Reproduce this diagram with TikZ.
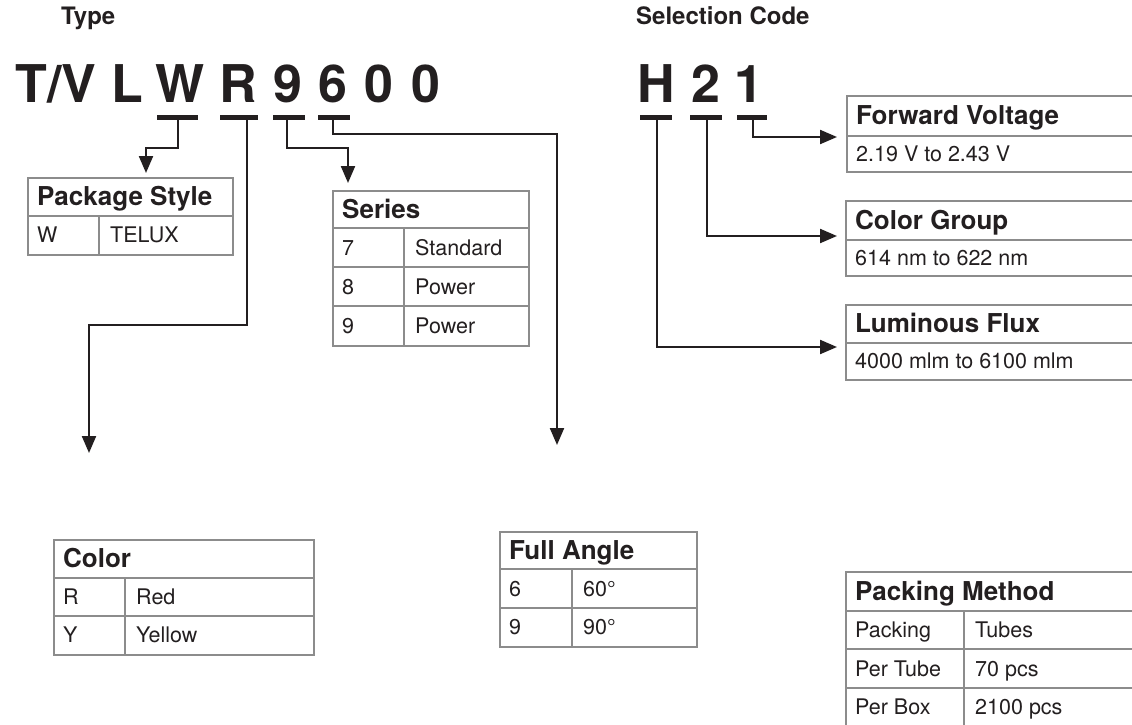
\documentclass[tikz,border=0pt]{standalone}
\usepackage{fontspec}
\setmainfont{TeX Gyre Heros}
\usetikzlibrary{arrows.meta}
\definecolor{ink}{HTML}{231F20}
\definecolor{rulegray}{HTML}{8C8C8C}
\tikzset{
 conn/.style={draw=ink, line width=2.2pt, -{Triangle[length=17pt,width=14pt]}},
 bar/.style={draw=ink, line width=5pt},
 tbox/.style={draw=rulegray, line width=1.5pt, anchor=north west, inner sep=0pt},
 tline/.style={draw=rulegray, line width=1.5pt},
 hdr/.style={anchor=west, inner sep=0pt, text height=18.5pt, text depth=0pt, font=\fontsize{26}{30}\selectfont\bfseries, text=ink},
 cell/.style={anchor=west, inner sep=0pt, text height=15.3pt, text depth=0pt, font=\fontsize{21.5}{25}\selectfont, text=ink},
 big/.style={anchor=base, inner sep=0pt, font=\fontsize{52}{60}\selectfont\bfseries, text=ink},
 ttl/.style={anchor=base west, inner sep=0pt, font=\fontsize{24}{28}\selectfont\bfseries, text=ink},
}
\begin{document}
\begin{tikzpicture}[x=1pt,y=-1pt]
\useasboundingbox (0,0) rectangle (1132,725);
\clip (0,0) rectangle (1132,725);
\fill[white] (0,0) rectangle (1132,725);

% titles
\node[ttl] (type) at (61,25) {Type};
\node[ttl] (selcode) at (636,25) {Selection Code};

% big code letters
\node[big] (c1) at (56,102) {T/V};
\node[big] (c2) at (127,102) {L};
\node[big] (c3) at (180,102) {W};
\node[big] (c4) at (238,102) {R};
\node[big] (c5) at (288,102) {9};
\node[big] (c6) at (333,102) {6};
\node[big] (c7) at (379,102) {0};
\node[big] (c8) at (426,102) {0};
\node[big] (s1) at (656,102) {H};
\node[big] (s2) at (706,102) {2};
\node[big] (s3) at (749,102) {1};

% underline bars
\draw[bar] (157,117.5) -- (198,117.5);
\draw[bar] (220,117.5) -- (258,117.5);
\draw[bar] (273,117.5) -- (305,117.5);
\draw[bar] (318,117.5) -- (350,117.5);
\draw[bar] (640,117.5) -- (672,117.5);
\draw[bar] (690,117.5) -- (722,117.5);
\draw[bar] (737,117.5) -- (767,117.5);
\coordinate (bW) at (178,117.5);
\coordinate (bR) at (247,117.5);
\coordinate (b9) at (287,117.5);
\coordinate (b6) at (333,117.5);
\coordinate (bH) at (657,117.5);
\coordinate (b2) at (707,117.5);
\coordinate (b1) at (753,117.5);

% ---------- Package Style
\node[tbox, minimum width=205pt, minimum height=77pt] (pkg) at (27,177) {};
\draw[tline] (27,216) -- (232,216);
\draw[tline] (99,216) -- (99,254);
\node[hdr] (pkgh) at (37,196.5) {Package Style};
\node[cell] (pkg1a) at (37,235) {W};
\node[cell] (pkg1b) at (110,235) {TELUX};

% ---------- Series
\node[tbox, minimum width=196pt, minimum height=155pt] (ser) at (332,190) {};
\draw[tline] (332,228) -- (528,228);
\draw[tline] (332,267) -- (528,267);
\draw[tline] (332,306) -- (528,306);
\draw[tline] (404,228) -- (404,345);
\node[hdr] (serh) at (342,209) {Series};
\node[cell] (ser1a) at (342,247.5) {7};
\node[cell] (ser1b) at (415,247.5) {Standard};
\node[cell] (ser2a) at (342,286.5) {8};
\node[cell] (ser2b) at (415,286.5) {Power};
\node[cell] (ser3a) at (342,325.5) {9};
\node[cell] (ser3b) at (415,325.5) {Power};

% ---------- Color
\node[tbox, minimum width=260pt, minimum height=115pt] (col) at (53,539) {};
\draw[tline] (53,578) -- (313,578);
\draw[tline] (53,616) -- (313,616);
\draw[tline] (125,578) -- (125,654);
\node[hdr] (colh) at (63,558.5) {Color};
\node[cell] (col1a) at (63,597) {R};
\node[cell] (col1b) at (136,597) {Red};
\node[cell] (col2a) at (63,635) {Y};
\node[cell] (col2b) at (136,635) {Yellow};

% ---------- Full Angle
\node[tbox, minimum width=197pt, minimum height=115pt] (ang) at (499,531) {};
\draw[tline] (499,569) -- (696,569);
\draw[tline] (499,608) -- (696,608);
\draw[tline] (572,569) -- (572,646);
\node[hdr] (angh) at (509,550) {Full Angle};
\node[cell] (ang1a) at (509,588.5) {6};
\node[cell] (ang1b) at (583,588.5) {60°};
\node[cell] (ang2a) at (509,627) {9};
\node[cell] (ang2b) at (583,627) {90°};

% ---------- Forward Voltage
\node[tbox, minimum width=300pt, minimum height=76pt] (fv) at (846,95) {};
\draw[tline] (846,136) -- (1146,136);
\node[hdr] (fvh) at (856,115.5) {Forward Voltage};
\node[cell] (fv1) at (856,153.5) {2.19 V to 2.43 V};

% ---------- Color Group
\node[tbox, minimum width=300pt, minimum height=75pt] (cg) at (845,200) {};
\draw[tline] (845,240) -- (1145,240);
\node[hdr] (cgh) at (855,220) {Color Group};
\node[cell] (cg1) at (855,257.5) {614 nm to 622 nm};

% ---------- Luminous Flux
\node[tbox, minimum width=300pt, minimum height=75pt] (lf) at (845,304) {};
\draw[tline] (845,343) -- (1145,343);
\node[hdr] (lfh) at (855,323.5) {Luminous Flux};
\node[cell] (lf1) at (855,361) {4000 mlm to 6100 mlm};

% ---------- Packing Method
\node[tbox, minimum width=300pt, minimum height=160pt] (pm) at (845,571) {};
\draw[tline] (845,611) -- (1145,611);
\draw[tline] (845,649) -- (1145,649);
\draw[tline] (845,688) -- (1145,688);
\draw[tline] (964,611) -- (964,731);
\node[hdr] (pmh) at (855,591) {Packing Method};
\node[cell] (pm1a) at (855,630) {Packing};
\node[cell] (pm1b) at (975,630) {Tubes};
\node[cell] (pm2a) at (855,668.5) {Per Tube};
\node[cell] (pm2b) at (975,668.5) {70 pcs};
\node[cell] (pm3a) at (855,707) {Per Box};
\node[cell] (pm3b) at (975,707) {2100 pcs};

% arrow end points
\coordinate (inPkg) at (146,173);
\coordinate (inSer) at (348,183);
\coordinate (inCol) at (89,453);
\coordinate (inAng) at (557,445);
\coordinate (inFV) at (837,137);
\coordinate (inCG) at (837,236);
\coordinate (inLF) at (837,347);

% connectors
\draw[conn] (bW) -- (178,148) -- (146,148) -- (inPkg);
\draw[conn] (b9) -- (287,148) -- (348,148) -- (inSer);
\draw[conn] (b6) -- (333,134) -- (557,134) -- (inAng);
\draw[conn] (bR) -- (247,325) -- (89,325) -- (inCol);
\draw[conn] (b1) |- (inFV);
\draw[conn] (b2) |- (inCG);
\draw[conn] (bH) |- (inLF);
\end{tikzpicture}
\end{document}
